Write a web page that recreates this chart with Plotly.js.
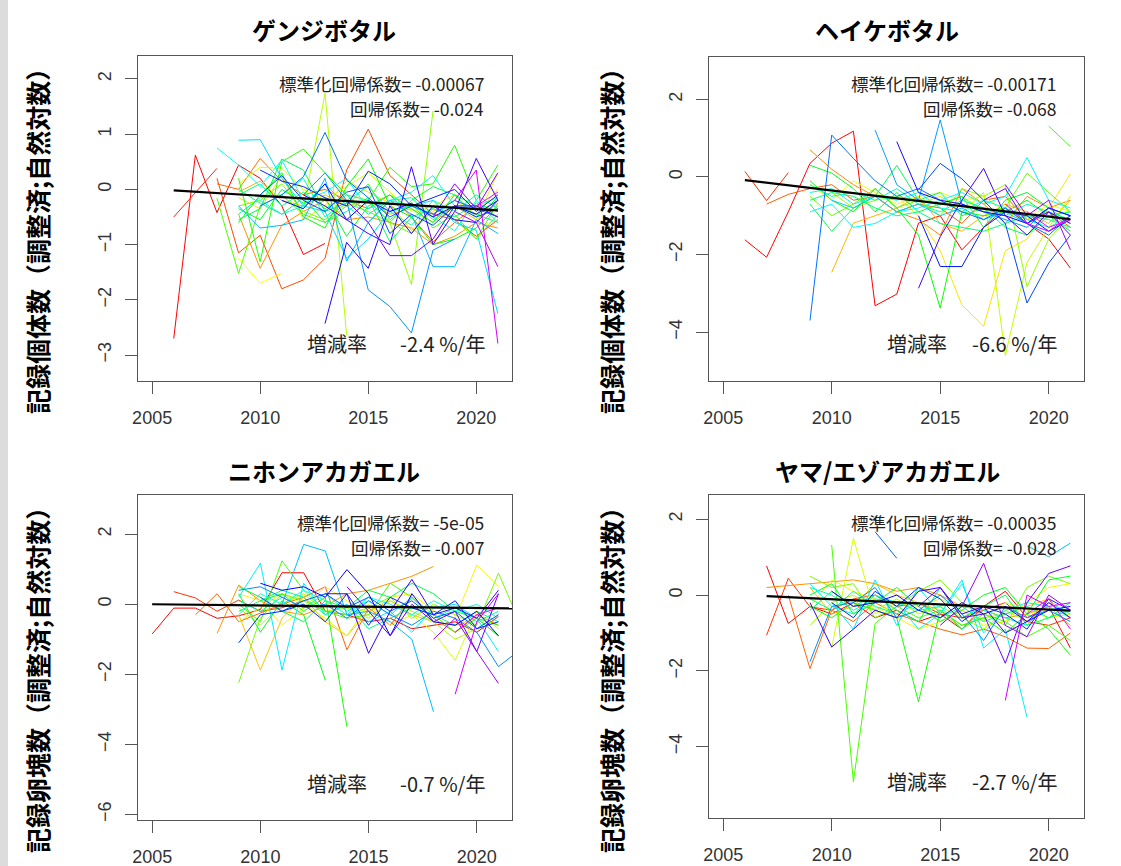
<!DOCTYPE html>
<html><head><meta charset="utf-8">
<script src="https://cdn.plot.ly/plotly-3.0.1.min.js"></script>
<style>html,body{margin:0;padding:0;background:#fff}#chart{width:1121px;height:866px}</style>
</head><body><div id="chart"></div>
<script>
// ---------------- DATA ----------------
// ゲンジボタル: start year of each site and yearly adjusted log counts
const genjiStart = [2006,2006,2008,2008,2009,2009,2009,2009,2009,2012,2014,2009,2008,2009,2009,2009,2009,2009,2009,2009,2010,2008,2009,2009,2012,2010,2010,2010,2011,2013,2012,2014,2018,2019,2019,2020];
const genjiVals = [
 [-2.7,0.62,-0.42,0.44,0.2,-0.3,-1.18,-0.98],
 [-0.5,-0.05,0.38],
 [0.2,-1.15,-0.83,-1.8,-1.64,-1.25,0.35,1.09,0.25,-0.1,-0.45,-0.55,-0.85,-0.55],
 [0.1,0.0,0.56,0.15,-0.1,0.0,-0.2,-0.35,-0.1,-0.5,-0.95,-0.6,-0.3,-0.4],
 [-0.45,-1.43,-0.65,-0.4,-0.2,-0.55,-0.5,-0.6,-0.7,-1.0,-0.85,-0.6,-0.7],
 [-0.05,0.15,-0.2,-0.3,-0.1,-0.3,-0.2,-0.45,-0.35,-0.6,-0.3,-0.55,-0.25],
 [-0.15,-0.35,0.25,-0.55,-0.3,0.15,-0.05,-0.25,-0.75,-0.4,-0.2,-0.45,0.0],
 [-1.25,-1.7,-1.52],
 [0.1,0.4,0.38,0.0,-0.2,0.05,0.3,-0.05,-0.4,-0.3,-0.1,-0.55,0.3],
 [-0.35,1.74,-2.64],
 [-0.3,-0.2,-0.6,-1.72,1.42],
 [-0.3,-0.2,0.1,-0.4,-0.55,-0.25,-0.4,-0.6,-0.8,-0.35,-0.55,-0.9,-0.45],
 [-0.16,-1.52,-0.3,-0.1,-0.45,-0.6,-0.3,0.1,-0.55,-0.25,-0.7,-0.45,-0.9,-0.25],
 [0.2,-1.31,0.5,0.73,0.3,-0.1,-0.2,0.4,0.05,0.1,0.8,-0.2,0.44],
 [-0.6,-0.1,0.3,-0.5,-0.7,0.05,0.55,-0.3,-0.5,-1.0,-0.9,-0.7,-0.3],
 [-0.35,-0.55,0.0,-0.25,-0.15,-0.85,-0.3,-0.1,-0.35,-0.6,-0.1,-0.5,-0.15],
 [-0.55,-0.35,0.55,0.35,-0.4,-0.25,-0.2,-0.6,-0.2,0.05,-0.1,-0.3,-0.5],
 [0.0,-0.25,-0.45,-0.15,-0.6,-0.4,-0.15,-0.95,-0.5,-0.35,-0.5,-0.25,-0.4],
 [-0.1,0.1,-0.3,-0.05,-0.35,-0.1,-0.45,-0.2,-0.15,-0.55,-0.3,-0.45,-0.6],
 [-0.45,-0.15,-0.1,0.2,-0.5,-0.2,0.05,-0.4,-0.65,-0.2,-0.4,-0.1,-0.35],
 [-0.2,-0.45,-0.3,0.1,-0.3,-0.6,-0.2,-0.3,-0.5,-0.75,-0.2,-0.6],
 [0.75,0.44,0.05,0.53,-0.2,-0.05,0.2,-0.35,-0.2,-0.05,0.25,-0.3,-0.3,-0.15],
 [0.89,0.9,0.2,-0.3,-0.4,-1.25,-0.9,-0.4,-0.3,-0.2,-0.6,-0.74,-2.25],
 [-0.3,-0.7,-0.65,-0.55,0.2,-1.3,-0.6,-0.2,-0.45,-1.4,-1.4,-0.55,-0.8],
 [-0.1,0.3,-0.2,-1.82,-2.12,-2.6,-1.1,-0.9],
 [-0.3,-0.1,0.23,1.03,0.17,-0.15,-0.5,-0.3,-0.45,-0.2,-0.35,-0.5],
 [-0.1,0.25,-0.2,-0.4,-0.05,0.05,-0.8,-0.45,-0.65,-0.3,-0.5,-0.35],
 [0.35,0.15,0.05,-0.15,-0.3,0.33,0.1,-0.3,-0.15,0.0,-0.4,-0.1],
 [-0.2,-0.35,0.1,-0.55,-0.2,-0.4,-0.25,-0.5,-0.3,-0.45,-0.2],
 [-2.43,-0.96,-1.43,-0.3,-0.8,-0.3,-0.55,-0.6,-0.2],
 [-0.1,-0.3,-0.55,-0.8,-1.0,0.41,-1.0,-0.4,0.56,-0.2],
 [-0.2,-0.6,-1.2,-1.2,-0.9,-0.3,-0.3,-0.5],
 [-0.5,0.1,-0.35,0.3],
 [-0.4,-0.6,-1.4],
 [-0.2,0.35,-2.79],
 [-0.3,-0.05]
];
const genjiTrendYears = [2006, 2021];
const genjiTrendVals = [-0.02, -0.38];

// ヘイケボタル
const heikeStart = [2006,2006,2007,2009,2010,2013,2009,2014,2010,2009,2020,2009,2009,2009,2009,2009,2009,2009,2010,2012,2009,2014,2014,2013,2014,2017,2018,2018,2019];
const heikeVals = [
 [-1.62,-2.07,-0.9,0.35,0.87,1.18,-3.32,-3.02,-1.19,-1.0,-1.88,-1.3,-0.8,-1.2,-1.6,-2.35],
 [0.14,-0.61,0.11],
 [-0.7,-0.45,-0.3,-0.2,-0.6,-0.5,-0.9,-0.7,-0.8,-1.2,-0.6,-0.5,-1.1,-0.9,-1.3],
 [0.7,0.2,-0.2,-0.5,-0.9,-1.1,-1.5,-0.3,-0.7,-1.2,-0.5,-0.8,-0.6],
 [-2.46,-1.19,-1.0,-0.8,-0.5,-1.2,-1.4,-1.0,-0.7,-0.9,-1.2,-0.6],
 [-0.5,-1.0,-1.9,-3.3,-3.85,-1.9,-1.6,-0.8,0.08],
 [-0.2,-0.6,-0.1,-0.4,-0.7,-0.5,-0.4,-0.6,-0.5,-0.9,-1.1,-0.7,-0.9],
 [-0.7,-0.5,-0.9,-0.4,-4.6,-2.2,-1.3,-0.5],
 [-0.4,-0.8,-0.6,-0.5,-0.6,-1.0,-0.3,-0.5,-0.2,-2.83,-1.6,-1.0],
 [-0.5,-1.0,-0.7,-0.3,-0.8,-0.6,-0.7,-0.5,-0.9,-0.8,0.1,-0.4,-0.9],
 [1.31,0.78],
 [-0.1,-0.6,-0.9,-0.3,-0.8,-1.5,-3.38,-0.9,-1.0,-0.9,-0.6,-1.0,-1.4],
 [0.3,0.1,-0.3,-0.9,-0.4,-0.9,-0.7,-0.5,-1.3,-0.6,-0.4,-0.8,-1.2],
 [-0.7,-1.4,-0.8,-0.5,0.3,-0.6,-0.4,-1.0,-0.8,-1.3,-1.5,-1.0,-0.9],
 [-0.6,-0.4,-0.5,-0.8,-1.0,-0.9,-1.2,-1.3,-1.4,-1.2,-1.0,-1.1,-1.3],
 [-0.2,-0.5,-0.4,-0.6,-0.3,-0.7,-0.9,-0.6,-0.8,-1.0,-0.7,-0.9,-1.1],
 [-0.4,-0.3,-0.7,-0.5,-0.6,-0.4,-0.8,-0.9,-0.6,-0.8,-1.1,-1.3,-1.0],
 [-0.9,-0.7,-1.3,-1.2,-0.9,-0.8,-0.6,-0.4,-0.7,-0.5,0.5,-0.6,-0.8],
 [-0.6,-0.8,-0.5,-0.9,-0.7,-1.0,-0.8,-1.1,-0.9,-1.2,-0.8,-1.0],
 [1.21,-0.2,-0.6,1.47,-0.7,-0.9,-1.1,-1.3,-0.8,-1.0],
 [-3.7,1.08,0.48,-0.1,-0.5,-0.3,-0.6,-0.9,-1.1,-0.8,-1.2,-1.5,-1.0],
 [-0.33,0.35,-0.05,-0.6,-1.2,-3.25,-2.22,-1.5],
 [-1.0,-2.31,-2.31,-1.3,-0.9,-1.0,-1.4,-1.1],
 [0.91,-0.4,-0.6,-0.7,-0.9,-1.0,-1.2,-0.8,-1.0],
 [-2.87,-1.54,-0.6,0.22,-1.0,-1.5,-0.9,-1.2],
 [-0.6,-0.3,-1.2,-0.9,-1.5],
 [-0.2,-1.0,-0.6,-1.88],
 [-0.7,-1.2,-1.4,-1.0],
 [-0.9,-1.3,-1.1]
];
const heikeTrendYears = [2006, 2021];
const heikeTrendVals = [-0.08, -1.09];

// ニホンアカガエル
const nihonStart = [2005,2006,2007,2008,2009,2009,2009,2009,2009,2009,2010,2009,2009,2009,2009,2009,2009,2011,2009,2010,2009,2010,2013,2014,2018,2019,2019];
const nihonVals = [
 [-0.85,-0.11,-0.11,-0.4,-0.33,-0.15,0.9,0.9,-0.2,-0.3,-0.5,-0.4,-0.7,-0.6,-0.5,-0.8,-0.35],
 [0.36,0.18,-0.2,0.12,-0.2,-0.1,0.1],
 [-0.3,0.3,-0.5,-0.25,0.0,0.2,0.5,-1.3,-0.1,-0.6,0.2,-0.4,-0.8,-0.3,-0.6],
 [-0.83,0.55,0.1,-0.2,-0.3,-0.05,0.3,0.4,0.6,0.8,1.08],
 [-0.3,-1.88,-0.4,0.2,-0.5,-0.9,-0.2,0.1,-0.3,-0.5,-0.6,-0.4,-0.9],
 [0.3,0.1,-0.6,-0.1,0.5,0.1,-0.3,0.2,0.3,-0.2,-0.4,1.12,0.5],
 [-0.5,-0.1,0.3,0.0,-0.4,-0.9,0.0,-0.6,-0.3,-0.8,-1.6,-0.2,-0.7],
 [-0.1,-0.6,0.0,0.3,-0.2,-0.1,-0.4,0.1,-0.2,-0.5,-1.0,-0.7,-0.3],
 [-2.24,-0.4,0.3,0.1,-0.2,-0.3,-0.1,0.2,-0.4,0.0,-0.3,-0.6,0.89,-0.54],
 [0.0,-0.5,1.24,0.4,-0.2,-0.4,-0.3,0.6,0.2,-0.3,-0.8,-0.4,-0.6],
 [0.1,0.3,-0.2,0.2,-3.5],
 [0.3,-0.8,0.1,-0.3,-2.17],
 [0.5,0.2,-0.2,-0.5,0.1,-0.1,0.4,0.2,0.6,0.3,-0.2,-0.4,-0.9],
 [-0.2,0.1,0.4,0.2,-0.3,0.0,-0.7,-0.4,-0.1,-0.3,-0.6,-0.2,-0.5],
 [0.1,-0.2,0.2,-0.1,0.3,-0.2,0.1,-0.3,0.2,-0.4,-0.1,-0.5,-0.2],
 [-0.3,0.3,0.0,0.4,0.1,-0.3,0.2,0.0,-0.3,0.1,-0.2,0.0,-0.4],
 [0.2,1.17,-1.88,0.6,-0.3,0.0,-0.5,-0.2,-0.8,-0.1,0.0,-0.4,-1.35],
 [0.0,1.71,1.52,-0.3,-0.2,-0.5,-1.0,-3.07],
 [0.4,0.5,0.2,-0.1,0.0,-0.4,0.1,-0.3,-0.6,-0.2,-0.4,-0.8,-1.78,-1.3],
 [0.2,-0.2,0.1,0.3,-0.1,0.2,-0.2,0.1,-0.4,-0.2,-0.7,-0.3],
 [-1.1,-0.3,-0.2,0.0,-0.5,0.3,-0.6,0.2,-0.1,-0.3,0.1,-0.7,-0.5],
 [0.6,0.4,0.5,0.2,0.99,0.3,-0.9,0.3,-0.5,-0.6,-0.2,-0.9],
 [0.3,0.3,-1.4,-0.2,0.71,-0.3,-0.1,-0.4,0.4],
 [0.5,-0.2,-0.9,0.0,-0.5,-0.2,-1.35,0.3],
 [-1.0,-0.4,-1.35,-2.26],
 [-2.57,-0.5,0.3],
 [-0.8,-0.3,-0.1]
];
const nihonTrendYears = [2005, 2022];
const nihonTrendVals = [0.0, -0.12];

// ヤマ/エゾアカガエル
const yamaStart = [2007,2007,2008,2007,2009,2009,2010,2009,2009,2010,2009,2009,2009,2009,2009,2009,2010,2019,2009,2012,2010,2010,2009,2014,2015,2018,2019];
const yamaVals = [
 [0.77,-0.75,-0.3,-0.5,-0.2,-0.6,-0.4,-0.7,-0.5,-0.9,-0.3,0.1,-0.6,-0.3,-1.4],
 [-1.06,0.44,-0.31,-0.4,-0.1,0.0,-0.3,-0.2,-0.5,-0.6,-0.4,-0.2,-0.7,-0.8,-0.6],
 [0.0,-1.94,-0.4,-0.7,-0.2,-0.5,-0.7,-0.9,-1.05,-0.9,-1.1,-1.4,-1.41,-1.0],
 [0.2,0.25,0.3,0.35,0.4,0.3,0.1,0.2,0.0,-0.3,-0.4,-0.6,-0.5,-0.3,-0.8],
 [0.2,-0.5,-0.3,0.3,0.0,-0.2,-0.4,-0.8,-0.6,-0.5,-0.3,-0.1,-0.6],
 [-0.3,0.4,0.1,-0.1,-0.6,-0.9,-0.7,-0.4,-0.8,-0.7,-0.2,0.2,0.3],
 [-1.4,1.5,-0.5,-0.2,-0.3,-0.1,-0.4,-0.7,-0.2,-0.4,-0.6,-0.5],
 [-0.8,-0.2,0.0,-0.4,-0.1,-0.5,-0.3,-0.6,-0.9,-0.4,-0.7,-0.3,-0.8],
 [0.5,0.2,0.3,-0.6,-0.3,0.1,0.4,-0.2,-0.5,-0.8,0.2,0.5,0.3],
 [1.32,-4.93,-0.75,-0.3,-0.6,-0.4,-0.9,-0.5,-0.7,-1.1,-0.8,-1.2],
 [-0.3,-0.6,-0.2,-0.4,-0.6,-2.82,-0.4,-0.8,-0.6,-1.0,-0.5,-0.9,-1.59],
 [0.0,0.3,-0.5,-0.2,0.2,-0.3,-0.7,-0.4,0.0,0.2,-0.5,0.4,0.5],
 [-0.4,0.1,-0.3,0.0,-0.4,-0.7,0.2,-0.6,-0.3,0.0,-0.8,-0.6,-0.2],
 [-0.1,-0.4,0.1,-0.3,-0.5,-0.2,-0.6,-0.3,-0.7,-0.5,-0.3,-0.6,-0.4],
 [0.2,0.0,-0.4,-0.1,-0.2,-0.4,-0.3,-0.9,-0.4,-0.6,-0.8,-0.2,-0.5],
 [0.3,-0.3,-0.5,0.0,-0.2,-0.9,-0.5,0.3,-1.0,-0.4,-0.2,-0.3,-0.6],
 [-0.2,-0.9,0.4,-0.8,0.2,-0.5,0.4,-1.4,-0.9,-3.22],
 [1.3,1.01,1.37],
 [-1.76,-0.3,-0.2,0.2,-0.6,-0.4,0.0,-0.5,-1.2,-0.3,-0.6,-0.4,-0.7],
 [1.67,0.97],
 [-0.2,-0.6,0.1,-0.3,0.2,-0.1,-0.7,-0.3,-0.5,-0.9,-0.1,-0.4],
 [0.1,-0.3,-0.2,0.0,-0.4,-0.6,-0.2,-0.5,-0.3,-0.7,-0.4,-0.3],
 [-0.2,-1.37,-0.9,-0.4,-0.6,0.1,0.2,-0.5,-0.3,-1.0,-0.7,-0.2,-0.6],
 [-0.3,0.2,-0.6,-0.5,-1.8,-0.2,0.57,0.77],
 [-0.8,-0.3,0.84,-0.8,-1.1,0.0,-0.4],
 [-2.78,0.0,-0.3,-0.2],
 [-0.5,-0.1,-0.9]
];
const yamaTrendYears = [2007, 2021];
const yamaTrendVals = [-0.03, -0.41];

const titles = ["ゲンジボタル","ヘイケボタル","ニホンアカガエル","ヤマ/エゾアカガエル"];
const stdCoefLabels = ["標準化回帰係数= -0.00067","標準化回帰係数= -0.00171","標準化回帰係数= -5e-05","標準化回帰係数= -0.00035"];
const coefLabels = ["回帰係数= -0.024","回帰係数= -0.068","回帰係数= -0.007","回帰係数= -0.028"];
const rateLabels = ["-2.4 %/年","-6.6 %/年","-0.7 %/年","-2.7 %/年"];
const yTitles = ["記録個体数（調整済;自然対数）","記録卵塊数（調整済;自然対数）"];
const xTicks = [2005,2010,2015,2020];
const yTicks1 = [-3,-2,-1,0,1,2];
const yTicks2 = [-4,-2,0,2];
const yTicks3 = [-6,-4,-2,0,2];
const yTicks4 = [-4,-2,0,2];

// ---------------- DRAWING ----------------
const W = 1121, H = 866;
const px = x => x / W, py = y => 1 - y / H;

const panels = [
  {start: genjiStart, vals: genjiVals, ty: genjiTrendYears, tv: genjiTrendVals, ax: '', box: [138.3, 511.7, 56, 381], yr: [-3.47, 2.415], yt: yTicks1},
  {start: heikeStart, vals: heikeVals, ty: heikeTrendYears, tv: heikeTrendVals, ax: '2', box: [709.3, 1084.3, 56.7, 381], yr: [-5.26, 3.10], yt: yTicks2},
  {start: nihonStart, vals: nihonVals, ty: nihonTrendYears, tv: nihonTrendVals, ax: '3', box: [138.3, 512.3, 495, 820], yr: [-6.16, 3.12], yt: yTicks3},
  {start: yamaStart, vals: yamaVals, ty: yamaTrendYears, tv: yamaTrendVals, ax: '4', box: [709.3, 1084.3, 495, 818.3], yr: [-5.89, 2.64], yt: yTicks4}
];

function rainbow(h) { // fully saturated hue, like R's rainbow()
  const f = n => { const k = (n + h * 12) % 12; return 0.5 - 0.5 * Math.max(-1, Math.min(k - 3, 9 - k, 1)); };
  return 'rgb(' + Math.round(f(0) * 255) + ',' + Math.round(f(8) * 255) + ',' + Math.round(f(4) * 255) + ')';
}

const traces = [];
const layout = {
  width: W, height: H, margin: {l: 0, r: 0, t: 0, b: 0},
  paper_bgcolor: '#ffffff', plot_bgcolor: '#ffffff', showlegend: false,
  annotations: [], shapes: [
    {type: 'rect', xref: 'paper', yref: 'paper', x0: 0, x1: px(8), y0: 0, y1: 1, fillcolor: '#dcdcdc', line: {width: 0}, layer: 'below'}
  ]
};
const tickFont = {family: 'Liberation Sans, Arial, sans-serif', size: 18, color: '#333'};
const cjk = 'Noto Sans CJK JP, sans-serif';

panels.forEach((p, pi) => {
  const xa = 'x' + p.ax, ya = 'y' + p.ax;
  const n = p.vals.length;
  p.vals.forEach((v, i) => {
    traces.push({
      x: v.map((_, k) => p.start[i] + k), y: v, xaxis: xa, yaxis: ya,
      type: 'scatter', mode: 'lines', hoverinfo: 'skip',
      line: {color: rainbow(0.83 * i / (n - 1)), width: 1}
    });
  });
  traces.push({x: p.ty, y: p.tv, xaxis: xa, yaxis: ya, type: 'scatter', mode: 'lines',
    hoverinfo: 'skip', line: {color: '#000', width: 2.2}});
  const [l, r, t, b] = p.box;
  const common = {showgrid: false, zeroline: false, showline: true, mirror: true, linecolor: '#555', linewidth: 1,
    ticks: 'outside', ticklen: 12, tickcolor: '#555', tickwidth: 1, tickfont: tickFont, fixedrange: true};
  layout['xaxis' + p.ax] = Object.assign({}, common, {domain: [px(l), px(r)], range: [2004.36, 2021.64],
    tickvals: xTicks, ticktext: xTicks.map(String), anchor: ya, ticklabelstandoff: 8});
  layout['yaxis' + p.ax] = Object.assign({}, common, {domain: [py(b), py(t)], range: p.yr,
    tickvals: p.yt, ticktext: p.yt.map(v => v < 0 ? '\u2212' + Math.abs(v) : String(v)), tickangle: -90, anchor: xa, ticklabelstandoff: 7});

  const right = r - 26;
  const topY = t + 27, midY = t + 52, rateY = b - 37;
  layout.annotations.push(
    {xref: 'paper', yref: 'paper', x: px(right), y: py(topY), xanchor: 'right', yanchor: 'middle', showarrow: false,
     text: stdCoefLabels[pi], font: {family: cjk, size: 17.5, color: '#222'}},
    {xref: 'paper', yref: 'paper', x: px(right), y: py(midY), xanchor: 'right', yanchor: 'middle', showarrow: false,
     text: coefLabels[pi], font: {family: cjk, size: 17.5, color: '#222'}},
    {xref: 'paper', yref: 'paper', x: px(right + 1), y: py(rateY), xanchor: 'right', yanchor: 'middle', showarrow: false,
     text: rateLabels[pi], font: {family: cjk, size: 20, color: '#222'}},
    {xref: 'paper', yref: 'paper', x: px(pi % 2 === 0 ? 305 : 885), y: py(rateY), xanchor: 'left', yanchor: 'middle', showarrow: false,
     text: '増減率', font: {family: cjk, size: 20, color: '#222'}},
    {xref: 'paper', yref: 'paper', x: px(pi % 2 === 0 ? 324 : 887), y: py(pi < 2 ? 30 : 470), xanchor: 'center', yanchor: 'middle', showarrow: false,
     text: '<b>' + titles[pi] + '</b>', font: {family: cjk, size: 24, color: '#000'}},
    {xref: 'paper', yref: 'paper', x: px(pi % 2 === 0 ? 37 : 611), y: py(pi < 2 ? 235 : 674), xanchor: 'center', yanchor: 'middle', showarrow: false,
     textangle: -90, text: '<b>' + yTitles[pi < 2 ? 0 : 1] + '</b>', font: {family: cjk, size: 25, color: '#000'}}
  );
});

Plotly.newPlot('chart', traces, layout, {staticPlot: true});
</script>
</body></html>
